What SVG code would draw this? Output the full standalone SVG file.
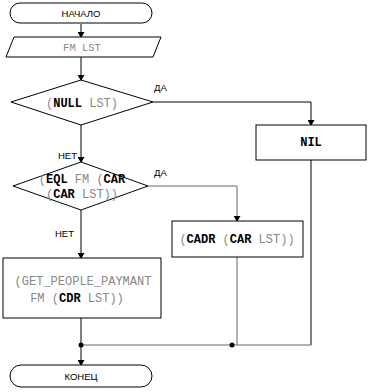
<svg xmlns="http://www.w3.org/2000/svg" width="369" height="392" viewBox="0 0 369 392">
<defs>
<marker id="arr" markerWidth="6" markerHeight="7" refX="5" refY="3.5" orient="auto" markerUnits="userSpaceOnUse">
<path d="M0,0 L6,3.5 L0,7 Z" fill="#000"/>
</marker>
<style>
.shape{fill:#fff;stroke:#000;stroke-width:1}
.lbl{font-family:"Liberation Sans",Arial,sans-serif;font-size:9.5px;fill:#000}
.code{font-family:"Liberation Mono","Courier New",monospace;font-size:12px;fill:#888}
.kw{font-weight:bold;fill:#000}
.c{fill:none;stroke:#000;stroke-width:1}
.g{fill:none;stroke:#666;stroke-width:1}
</style>
</defs>
<rect width="369" height="392" fill="#fff"/>
<g id="connectors">
<path class="c" d="M81,24 V37" marker-end="url(#arr)"/>
<path class="c" d="M81,57 V80" marker-end="url(#arr)"/>
<path class="c" d="M81,125 V162" marker-end="url(#arr)"/>
<path class="c" d="M153,102 H311 V125" marker-end="url(#arr)"/>
<path class="c" d="M81,210 V258" marker-end="url(#arr)"/>
<path class="g" d="M148,186 H237 V221" marker-end="url(#arr)"/>
<path class="c" d="M81,318 V365" marker-end="url(#arr)"/>
<path class="c" d="M311,160 V345"/>
<path class="g" d="M311,345 H81"/>
<path class="g" d="M237,257 V345"/>
<circle cx="81" cy="345" r="2.5" fill="#000"/>
<circle cx="232" cy="345" r="2.5" fill="#000"/>
<text class="lbl" x="154" y="91">ДА</text>
<text class="lbl" x="58" y="159">НЕТ</text>
<text class="lbl" x="154" y="176">ДА</text>
<text class="lbl" x="55" y="237">НЕТ</text>
</g>
<g id="start">
<rect class="shape" x="10" y="3" width="142" height="20" rx="10"/>
<text class="lbl" x="81" y="17" text-anchor="middle">НАЧАЛО</text>
</g>
<g id="input">
<polygon class="shape" points="14,37 161,37 153,57 6,57"/>
<text class="code" x="82" y="51" text-anchor="middle" style="font-size:10.5px">FM LST</text>
</g>
<g id="cond1">
<polygon class="shape" points="81,80 153,102 81,125 11,102"/>
<text class="code" x="82" y="107" text-anchor="middle">(<tspan class="kw">NULL</tspan> LST)</text>
</g>
<g id="nil">
<rect class="shape" x="256" y="125" width="110" height="35"/>
<text class="code" x="311" y="146" text-anchor="middle" style="fill:#000;font-weight:bold">NIL</text>
</g>
<g id="cond2">
<polygon class="shape" points="81,162 148,186 81,210 13,186"/>
<text class="code" x="82" y="183" text-anchor="middle">(<tspan class="kw">EQL</tspan> FM (<tspan class="kw">CAR</tspan></text>
<text class="code" x="82" y="198" text-anchor="middle">(<tspan class="kw">CAR</tspan> LST))</text>
</g>
<g id="cadr">
<rect class="shape" x="172" y="221" width="131" height="36"/>
<text class="code" x="237" y="243" text-anchor="middle">(<tspan class="kw">CADR</tspan> (<tspan class="kw">CAR</tspan> LST))</text>
</g>
<g id="get">
<rect class="shape" x="3" y="258" width="158" height="60"/>
<text class="code" x="83" y="285" text-anchor="middle">(GET_PEOPLE_PAYMANT</text>
<text class="code" x="77" y="302" text-anchor="middle">FM (<tspan class="kw">CDR</tspan> LST))</text>
</g>
<g id="end">
<rect class="shape" x="10" y="365" width="142" height="22" rx="11"/>
<text class="lbl" x="81" y="380" text-anchor="middle">КОНЕЦ</text>
</g>
</svg>
